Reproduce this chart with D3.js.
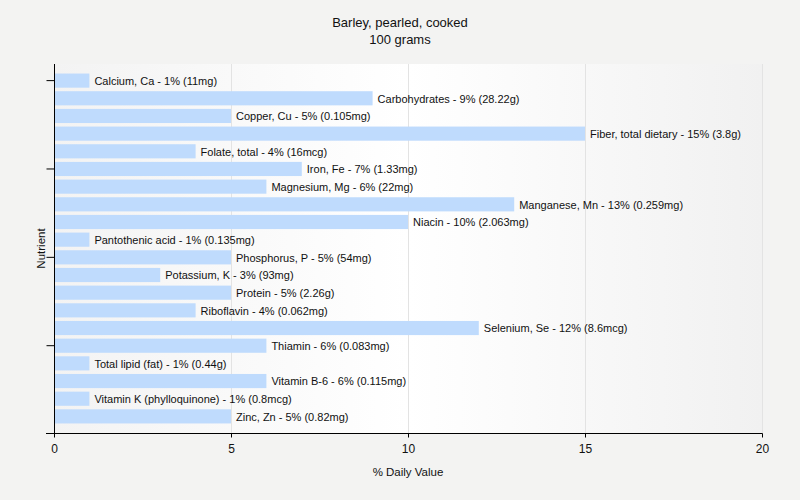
<!DOCTYPE html>
<html>
<head>
<meta charset="utf-8">
<script src="https://cdn.jsdelivr.net/npm/d3@7"></script>
<style>
  body { margin: 0; background: #f3f3f2; }
  text { font-family: "Liberation Sans", Arial, sans-serif; fill: #111; }
</style>
</head>
<body>
<svg id="chart" width="800" height="500"></svg>
<script>
// nutrient names, % daily value and amount shown in the label
var nutrients = ["Calcium, Ca", "Carbohydrates", "Copper, Cu", "Fiber, total dietary", "Folate, total",
  "Iron, Fe", "Magnesium, Mg", "Manganese, Mn", "Niacin", "Pantothenic acid", "Phosphorus, P",
  "Potassium, K", "Protein", "Riboflavin", "Selenium, Se", "Thiamin", "Total lipid (fat)",
  "Vitamin B-6", "Vitamin K (phylloquinone)", "Zinc, Zn"];
var values = [1, 9, 5, 15, 4, 7, 6, 13, 10, 1, 5, 3, 5, 4, 12, 6, 1, 6, 1, 5];
var amounts = ["11mg", "28.22g", "0.105mg", "3.8g", "16mcg", "1.33mg", "22mg", "0.259mg", "2.063mg",
  "0.135mg", "54mg", "93mg", "2.26g", "0.062mg", "8.6mcg", "0.083mg", "0.44g", "0.115mg", "0.8mcg", "0.82mg"];
var xTicks = [0, 5, 10, 15, 20];

var width = 800, height = 500;
var margin = {top: 64, right: 38, bottom: 67, left: 54};

var svg = d3.select("#chart");

var x = d3.scaleLinear()
  .domain([0, 20])
  .range([margin.left, width - margin.right]);

var y = d3.scaleBand()
  .domain(nutrients)
  .range([margin.top, height - margin.bottom])
  .paddingInner(0.2)
  .paddingOuter(0.54);

// plot background gradient
var grad = svg.append("defs").append("linearGradient")
  .attr("id", "bg")
  .attr("x1", "0%").attr("x2", "100%").attr("y1", "0%").attr("y2", "0%");
grad.append("stop").attr("offset", "0%").attr("stop-color", "#f3f3f3");
grad.append("stop").attr("offset", "50%").attr("stop-color", "#ffffff");
grad.append("stop").attr("offset", "100%").attr("stop-color", "#f1f1f1");

svg.append("rect")
  .attr("x", margin.left)
  .attr("y", margin.top)
  .attr("width", x(20) - margin.left)
  .attr("height", height - margin.bottom - margin.top)
  .attr("fill", "url(#bg)");

// grid
svg.append("g").selectAll("line")
  .data(xTicks.slice(1))
  .enter()
  .append("line")
  .attr("x1", d => x(d) + 0.5).attr("x2", d => x(d) + 0.5)
  .attr("y1", margin.top).attr("y2", height - margin.bottom)
  .attr("stroke", "#e3e3e3");

// bars
svg.append("g").selectAll("rect")
  .data(values)
  .enter()
  .append("rect")
  .attr("x", x(0) + 1)
  .attr("y", (d, i) => y(nutrients[i]))
  .attr("width", d => x(d) - x(0) - 1)
  .attr("height", y.bandwidth())
  .attr("fill", "#bfdbfd");

// bar labels
svg.append("g").selectAll("text")
  .data(values)
  .enter()
  .append("text")
  .attr("x", d => x(d) + 5)
  .attr("y", (d, i) => y(nutrients[i]) + y.bandwidth() / 2 + 0.5)
  .attr("dy", "0.35em")
  .style("font-size", "11px")
  .text((d, i) => nutrients[i] + " - " + d + "% (" + amounts[i] + ")");

// x axis
var xAxis = svg.append("g")
  .attr("transform", "translate(0," + (height - margin.bottom + 0.5) + ")")
  .call(d3.axisBottom(x).tickValues(xTicks).tickSize(4).tickSizeOuter(0));
xAxis.select(".domain").attr("d", "M" + (margin.left - 8) + ",0H" + (x(20) + 0.5)).attr("stroke", "#000");
xAxis.selectAll(".tick line").attr("stroke", "#000");
xAxis.selectAll(".tick text").style("font-size", "12px").attr("dy", "1.0em").attr("fill", "#111");

// y axis: ticks every 5th category, no labels
var yAxis = svg.append("g")
  .attr("transform", "translate(" + (margin.left + 0.5) + ",0)")
  .call(d3.axisLeft(y).tickValues(nutrients.filter((d, i) => i % 5 == 0)).tickSize(8).tickSizeOuter(0).tickFormat(""));
yAxis.select(".domain").attr("d", "M0," + margin.top + "V" + (height - margin.bottom)).attr("stroke", "#000");
yAxis.selectAll(".tick line").attr("stroke", "#000");

// titles
svg.append("text")
  .attr("x", width / 2).attr("y", 27)
  .attr("text-anchor", "middle")
  .style("font-size", "13px")
  .text("Barley, pearled, cooked");
svg.append("text")
  .attr("x", width / 2).attr("y", 44)
  .attr("text-anchor", "middle")
  .style("font-size", "13px")
  .text("100 grams");

svg.append("text")
  .attr("x", (margin.left + x(20)) / 2).attr("y", 476)
  .attr("text-anchor", "middle")
  .style("font-size", "11.5px")
  .text("% Daily Value");

svg.append("text")
  .attr("transform", "translate(45," + (margin.top + height - margin.bottom) / 2 + ") rotate(-90)")
  .attr("text-anchor", "middle")
  .style("font-size", "11.5px")
  .text("Nutrient");
</script>
</body>
</html>
